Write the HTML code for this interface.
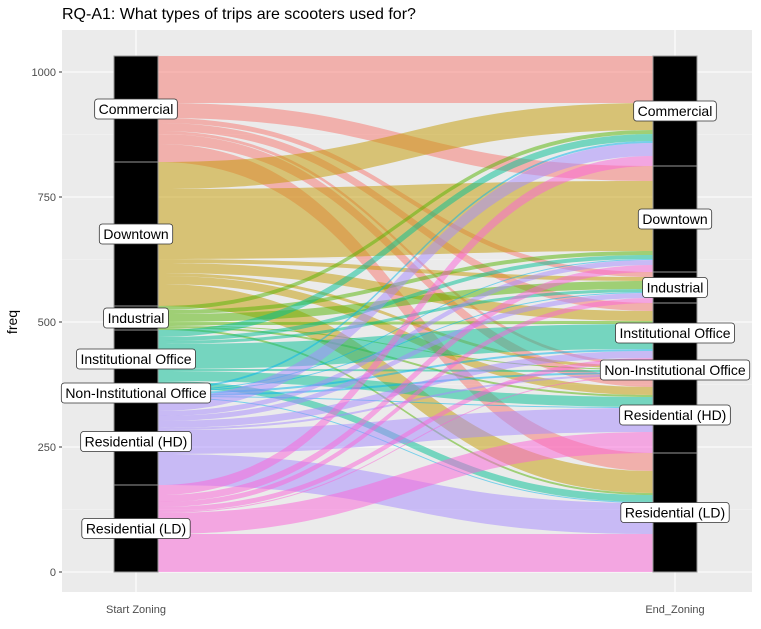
<!DOCTYPE html>
<html><head><meta charset="utf-8"><style>
body{margin:0;background:#fff;font-family:"Liberation Sans",Arial,sans-serif}
</style></head><body>
<svg id="chart" width="761" height="624" xmlns="http://www.w3.org/2000/svg" font-family="Liberation Sans, Arial, sans-serif">
<text x="62" y="19" font-size="16" fill="#000">RQ-A1: What types of trips are scooters used for?</text>
<rect x="62" y="30" width="690" height="562" fill="#EBEBEB"/>
<g id="grid"></g>
<g id="flows"></g>
<g id="strata"></g>
<g id="axes"></g>
<text transform="translate(17,322) rotate(-90)" text-anchor="middle" font-size="14">freq</text>
</svg>
<script>
const zones = ["Commercial","Downtown","Industrial","Institutional Office","Non-Institutional Office","Residential (HD)","Residential (LD)"];
const colors = ["#F8766D","#C49A00","#53B400","#00C094","#00B6EB","#A58AFF","#FB61D7"];
// flow matrix: rows = start zoning, cols = end zoning
const fromCommercial = [94,30,10,16,6,20,36];
const fromDowntown = [54,140,8,20,6,16,44];
const fromIndustrial = [8,8,16,6,2,4,4];
const fromInstOffice = [14,8,6,50,4,20,14];
const fromNonInstOffice = [4,2,2,4,4,2,2];
const fromResHD = [26,10,10,14,4,48,62];
const fromResLD = [20,14,10,10,2,42,76];
const flows = [fromCommercial,fromDowntown,fromIndustrial,fromInstOffice,fromNonInstOffice,fromResHD,fromResLD];
const yTicks = [0,250,500,750,1000];
const xLabels = ["Start Zoning","End_Zoning"];

const NS="http://www.w3.org/2000/svg";
const y = v => 572 - v*0.5;
const xL0=114,xL1=158,xR0=653,xR1=697;
function mk(tag,attrs,parent){const e=document.createElementNS(NS,tag);for(const k in attrs)e.setAttribute(k,attrs[k]);parent.appendChild(e);return e;}
const grid=document.getElementById('grid'),fg=document.getElementById('flows'),sg=document.getElementById('strata'),ax=document.getElementById('axes');
for(let i=0;i<yTicks.length;i++){
  const l=mk('line',{x1:62,x2:752,y1:y(yTicks[i]),y2:y(yTicks[i]),stroke:'#fff','stroke-width':1.1},grid);
  
  
  if(i<yTicks.length-1){
    const m=mk('line',{x1:62,x2:752,y1:y((yTicks[i]+yTicks[i+1])/2),y2:y((yTicks[i]+yTicks[i+1])/2),stroke:'#F5F5F5','stroke-width':0.6},grid);
    
    
  }
  const t=mk('text',{x:56,y:y(yTicks[i])+4,'text-anchor':'end','font-size':11,fill:'#4D4D4D'},ax);
  t.textContent=yTicks[i];
  
  
  const tk=mk('line',{x1:59,x2:62,y1:y(yTicks[i]),y2:y(yTicks[i]),stroke:'#333'},ax);
  
  
}
[136,675].forEach((xx,i)=>{
  const l=mk('line',{x1:xx,x2:xx,y1:30,y2:592,stroke:'#fff','stroke-width':1.1},grid);
  
  
  const t=mk('text',{x:xx,y:613,'text-anchor':'middle','font-size':11,fill:'#4D4D4D'},ax);
  t.textContent=xLabels[i];
  
  
});
const n=zones.length;
const startTot=flows.map(r=>r.reduce((a,b)=>a+b,0));
const endTot=zones.map((_,j)=>flows.reduce((a,r)=>a+r[j],0));
const total=startTot.reduce((a,b)=>a+b,0);
function tops(arr){const t=[];let c=total;for(const v of arr){t.push(c);c-=v;}return t;}
const sTop=tops(startTot),eTop=tops(endTot);
const sOff=sTop.slice(),eOff=eTop.slice();
const segs=[];
for(let i=0;i<n;i++)for(let j=0;j<n;j++){
  const v=flows[i][j];
  const a=sOff[i];sOff[i]-=v;
  segs.push({i,j,v,a,b:0});
}
for(let j=0;j<n;j++)for(let i=0;i<n;i++){
  const s=segs[i*n+j];s.b=eOff[j];eOff[j]-=s.v;
}
const xm=(xL1+xR0)/2;
segs.forEach(s=>{
  if(s.v<=0)return;
  const a0=y(s.a),a1=y(s.a-s.v),b0=y(s.b),b1=y(s.b-s.v);
  const d=`M${xL1},${a0} C${xm},${a0} ${xm},${b0} ${xR0},${b0} L${xR0},${b1} C${xm},${b1} ${xm},${a1} ${xL1},${a1} Z`;
  const p=mk('path',{d,fill:colors[s.i],'fill-opacity':0.5},fg);
  
  
});
function strata(topArr,vals,x0,x1,side){
  for(let i=0;i<n;i++){
    const r=mk('rect',{x:x0,y:y(topArr[i]),width:x1-x0,height:vals[i]*0.5,fill:'#000',stroke:'#999','stroke-width':1},sg);
    
    
  }
  for(let i=0;i<n;i++){
    const cy=y(topArr[i]-vals[i]/2), cx=(x0+x1)/2;
    const t=mk('text',{x:cx,y:cy+5,'text-anchor':'middle','font-size':14,fill:'#000'},sg);
    t.textContent=zones[i];
    const w=t.getComputedTextLength()+8;
    const r=mk('rect',{x:cx-w/2,y:cy-10,width:w,height:20,rx:3,fill:'#fff',stroke:'#333','stroke-width':0.8},sg);
    sg.insertBefore(r,t);
    
    
    
    
  }
}
strata(sTop,startTot,xL0,xL1,'start');
strata(eTop,endTot,xR0,xR1,'end');
</script>
</body></html>
